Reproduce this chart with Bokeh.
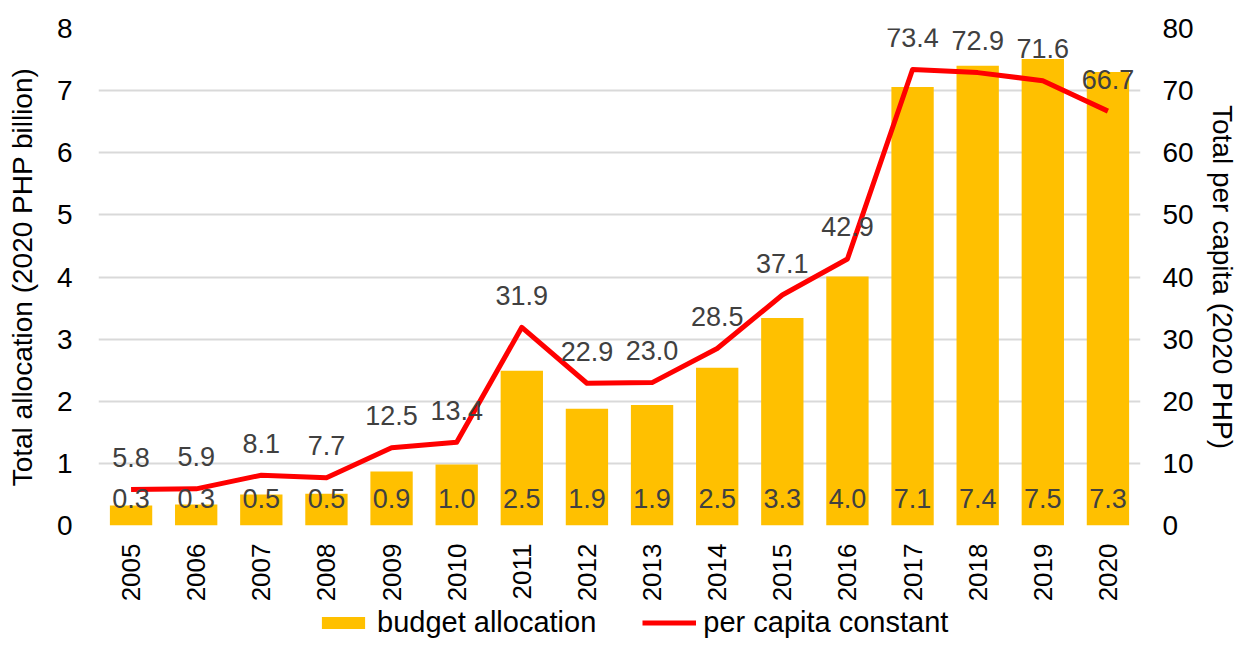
import math
from bokeh.plotting import figure
from bokeh.layouts import column
from bokeh.models import ColumnDataSource, Range1d, LinearAxis, FixedTicker, Legend, LegendItem
from bokeh.embed import file_html
from bokeh.resources import INLINE
from bokeh.core.properties import value

years = [str(y) for y in range(2005, 2021)]
budget = [0.32, 0.34, 0.50, 0.51, 0.87, 0.98, 2.49, 1.88, 1.94, 2.54, 3.34, 4.01, 7.06, 7.40, 7.51, 7.30]
per_capita = [5.8, 5.9, 8.1, 7.7, 12.5, 13.4, 31.9, 22.9, 23.0, 28.5, 37.1, 42.9, 73.4, 72.9, 71.6, 66.7]
left_ticks = [0, 1, 2, 3, 4, 5, 6, 7, 8]
right_ticks = [0, 10, 20, 30, 40, 50, 60, 70, 80]
series_names = ["budget allocation", "per capita constant"]

FONT = "Liberation Sans"
BAR_COLOR = "#FFC000"
LINE_COLOR = "#FF0000"

src = ColumnDataSource(dict(
    year=years,
    budget=budget,
    pc=per_capita,
    zero=[0] * len(years),
    blab=[f"{v:.1f}" for v in budget],
    plab=[f"{v:.1f}" for v in per_capita],
))

p = figure(x_range=years, y_range=Range1d(0, 8), width=1240, height=605,
           output_backend="svg", toolbar_location=None,
           min_border_left=98, min_border_right=100, min_border_top=28, min_border_bottom=80)
p.outline_line_color = None
p.extra_y_ranges = {"right": Range1d(0, 80)}

p.vbar(x="year", top="budget", width=0.65, source=src, color=BAR_COLOR, line_color=None)
p.line(x="year", y="pc", y_range_name="right", source=src, line_color=LINE_COLOR, line_width=5,
       line_join="round")

p.text(x="year", y="zero", text="blab", source=src, text_align="center", text_baseline="alphabetic",
       y_offset=-27, text_font=value(FONT), text_font_size="27px", text_color="#404040")
p.text(x="year", y="pc", y_range_name="right", text="plab", source=src, text_align="center",
       text_baseline="alphabetic", y_offset=-32, text_font=value(FONT), text_font_size="27px",
       text_color="#404040")

p.xgrid.visible = False
p.ygrid.grid_line_color = "#d9d9d9"
p.ygrid.grid_line_width = 2
p.ygrid.ticker = FixedTicker(ticks=left_ticks)

ax_style = dict(axis_line_color=None, major_tick_line_color=None, minor_tick_line_color=None,
                major_tick_out=0, major_tick_in=0, minor_tick_out=0, minor_tick_in=0,
                major_label_text_font=FONT, major_label_text_font_size="28px",
                major_label_text_color="#000000", axis_label_text_font=FONT,
                axis_label_text_font_size="28px", axis_label_text_font_style="normal",
                axis_label_text_color="#000000")

yl = p.yaxis[0]
yl.ticker = FixedTicker(ticks=left_ticks)
yl.axis_label = "Total allocation (2020 PHP billion)"
for k, v in ax_style.items():
    setattr(yl, k, v)
yl.major_label_standoff = 26
yl.axis_label_standoff = 16

yr = LinearAxis(y_range_name="right", ticker=FixedTicker(ticks=right_ticks),
                axis_label="Total per capita (2020 PHP)")
for k, v in ax_style.items():
    setattr(yr, k, v)
yr.major_label_standoff = 22
yr.axis_label_standoff = 10
p.add_layout(yr, "right")

xa = p.xaxis[0]
for k, v in ax_style.items():
    setattr(xa, k, v)
xa.major_label_orientation = math.pi / 2
xa.major_label_standoff = 18
xa.major_label_text_font_size = "26px"

# legend strip below the chart (series sit outside its visible range; only the legend shows)
lg = figure(width=1240, height=34, x_range=years, y_range=Range1d(100, 101),
            output_backend="svg", toolbar_location=None, x_axis_location=None, y_axis_location=None,
            min_border=0)
lg.outline_line_color = None
lg.xgrid.visible = False
lg.ygrid.visible = False
r_bar = lg.vbar(x="year", top="budget", width=0.65, source=src, color=BAR_COLOR, line_color=None)
r_line = lg.line(x="year", y="pc", source=src, line_color=LINE_COLOR, line_width=5)
legend = Legend(items=[LegendItem(label=series_names[0], renderers=[r_bar]),
                       LegendItem(label=series_names[1], renderers=[r_line])],
                orientation="horizontal", location=(218, 0),
                label_text_font=FONT, label_text_font_size="29px", label_text_color="#000000",
                glyph_width=54, glyph_height=15, spacing=46, label_standoff=7,
                padding=0, margin=0, border_line_color=None, background_fill_alpha=0)
lg.add_layout(legend)

open("out.html", "w").write(file_html(column(p, lg), INLINE))
